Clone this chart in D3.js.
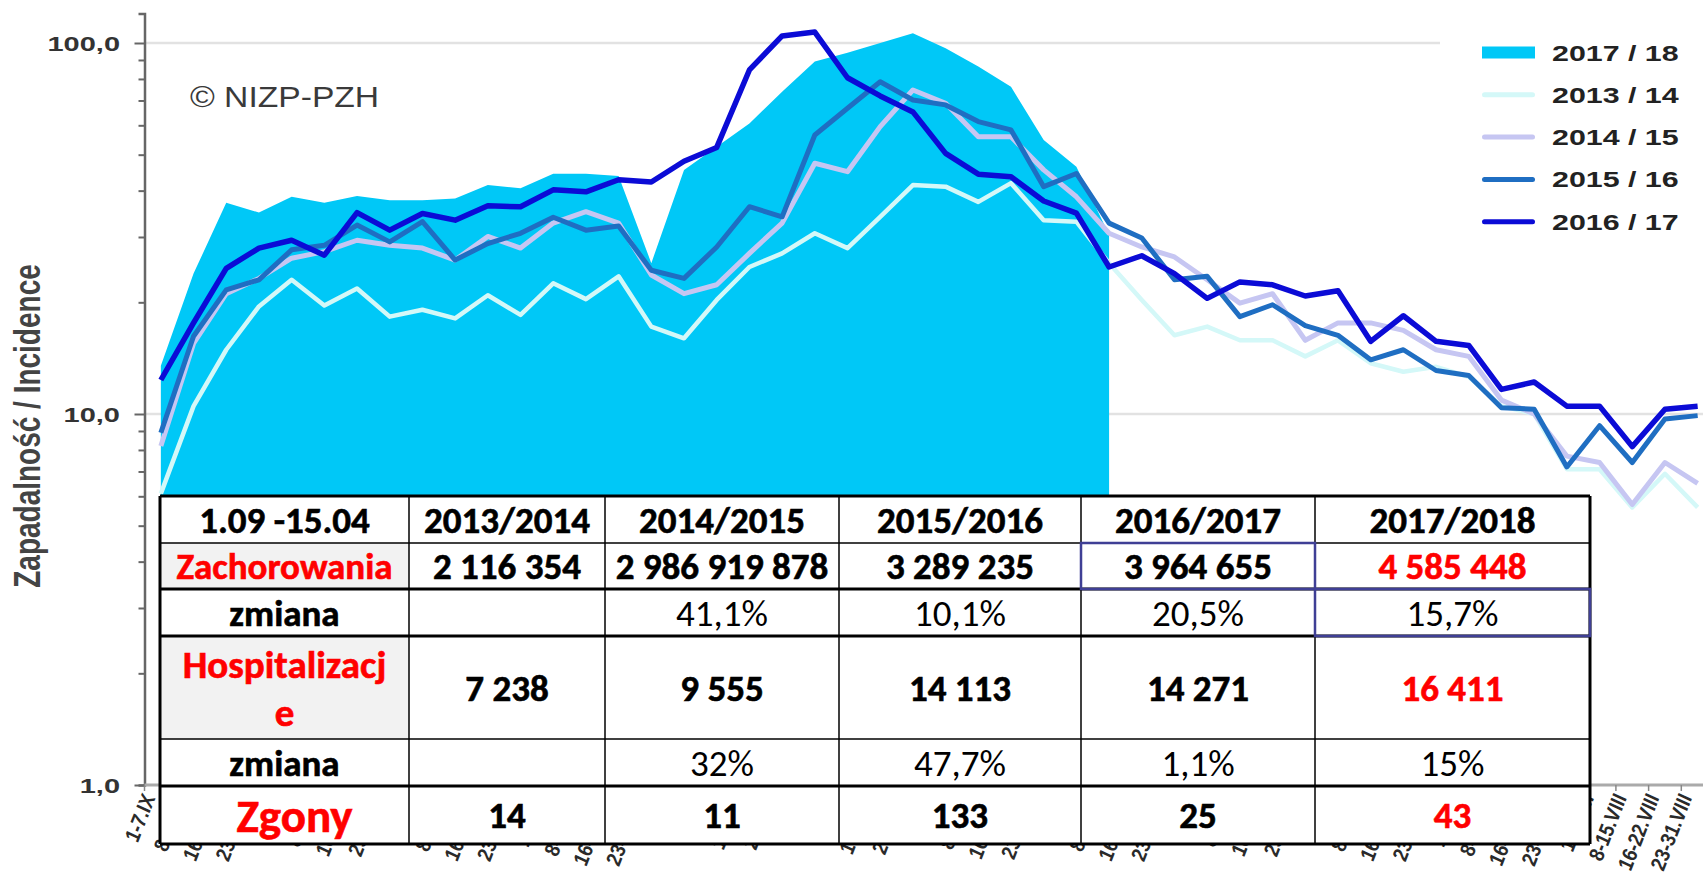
<!DOCTYPE html>
<html>
<head>
<meta charset="utf-8">
<script src="https://cdn.jsdelivr.net/npm/d3@7/dist/d3.min.js"></script>
<style>
	body { margin: 0; background: #fff; }
	svg { display: block; }
</style>
</head>
<body>
<svg id="chart"></svg>
<script>
const WIDTH = 1703;
const HEIGHT = 881;

// weekly periods, Sep -> Aug
const WEEKS = [
	"1-7.IX", "8-15.IX", "16-22.IX", "23-30.IX",
	"1-7.X", "8-15.X", "16-22.X", "23-31.X",
	"1-7.XI", "8-15.XI", "16-22.XI", "23-30.XI",
	"1-7.XII", "8-15.XII", "16-22.XII", "23-31.XII",
	"1-7.I", "8-15.I", "16-22.I", "23-31.I",
	"1-7.II", "8-15.II", "16-22.II", "23-28.II",
	"1-7.III", "8-15.III", "16-22.III", "23-31.III",
	"1-7.IV", "8-15.IV", "16-22.IV", "23-30.IV",
	"1-7.V", "8-15.V", "16-22.V", "23-31.V",
	"1-7.VI", "8-15.VI", "16-22.VI", "23-30.VI",
	"1-7.VII", "8-15.VII", "16-22.VII", "23-31.VII",
	"1-7.VIII", "8-15.VIII", "16-22.VIII", "23-31.VIII",
];

// incidence per 100 000
const S_2017_18 = [13.5, 23.9, 37.1, 34.9, 38.5, 37.1, 38.7, 37.7, 37.7, 38.1, 41.4, 40.6, 44.4, 44.4, 43.8, 25.5,
	45.5, 52.5, 60.7, 73.9, 89.1, 94.2, 100.0, 106.2, 96.8, 86.4, 76.2, 54.8, 46.4, 30.4];
const S_2013_14 = [6.1, 10.5, 14.9, 19.5, 23.0, 19.6, 21.8, 18.3, 19.1, 18.1, 20.9, 18.5, 22.5, 20.4, 23.5, 17.2,
	16.0, 20.3, 24.9, 27.1, 30.7, 28.0, 34.0, 41.4, 41.0, 37.3, 41.9, 33.3, 33.0, 25.5, 20.3, 16.3,
	17.2, 15.8, 15.8, 14.3, 15.8, 13.7, 13.0, 13.4, 12.6, 10.5, 10.0, 7.1, 7.1, 5.6, 6.9, 5.6];
const S_2014_15 = [8.2, 15.5, 21.1, 23.2, 26.3, 27.4, 29.4, 28.5, 28.0, 26.0, 30.1, 28.0, 32.7, 35.1, 32.7, 23.7,
	21.1, 22.3, 27.1, 32.7, 47.4, 45.0, 59.5, 74.7, 68.8, 55.9, 55.9, 45.5, 38.5, 30.7, 28.2, 26.5,
	23.0, 19.9, 21.1, 15.8, 17.6, 17.6, 16.8, 14.9, 14.3, 10.9, 10.0, 7.7, 7.4, 5.7, 7.4, 6.5];
const S_2015_16 = [8.9, 16.2, 21.6, 23.0, 27.7, 28.5, 32.3, 29.1, 33.0, 26.0, 28.8, 30.7, 33.9, 31.3, 32.1, 24.4,
	23.2, 28.2, 36.2, 34.0, 56.5, 66.7, 78.6, 70.2, 68.1, 61.4, 58.3, 41.0, 44.5, 32.7, 29.8, 23.0,
	23.5, 18.3, 19.7, 17.3, 16.3, 14.0, 14.9, 13.1, 12.7, 10.4, 10.3, 7.2, 9.3, 7.4, 9.7, 9.9];
const S_2016_17 = [12.35, 17.6, 24.7, 28.0, 29.4, 26.8, 34.9, 31.3, 34.7, 33.3, 36.4, 36.2, 40.2, 39.7, 42.8, 42.2,
	48.0, 52.3, 84.6, 104.5, 107.0, 80.6, 72.0, 65.2, 50.4, 44.3, 43.6, 37.5, 34.8, 24.9, 26.7, 23.9,
	20.5, 22.7, 22.3, 20.8, 21.5, 15.7, 18.4, 15.7, 15.3, 11.65, 12.2, 10.5, 10.5, 8.17, 10.3, 10.5];

const LEGEND_LABELS = ["2017 / 18", "2013 / 14", "2014 / 15", "2015 / 16", "2016 / 17"];
const Y_TICK_LABELS = [[100, "100,0"], [10, "10,0"], [1, "1,0"]];

// table
const TABLE_HEADER = ["1.09 -15.04", "2013/2014", "2014/2015", "2015/2016", "2016/2017", "2017/2018"];
const ROW_LABELS = ["Zachorowania", "zmiana", "Hospitalizacje", "zmiana", "Zgony"];
const CASES = ["2 116 354", "2 986 919 878", "3 289 235", "3 964 655", "4 585 448"];
const CASES_CHANGE = ["", "41,1%", "10,1%", "20,5%", "15,7%"];
const HOSPITAL = ["7 238", "9 555", "14 113", "14 271", "16 411"];
const HOSPITAL_CHANGE = ["", "32%", "47,7%", "1,1%", "15%"];
const DEATHS = ["14", "11", "133", "25", "43"];

const COLORS = {
	area: "#00c8f7",
	s1314: "#d4f8f8",
	s1415: "#c6c6f2",
	s1516: "#1f6ec2",
	s1617: "#0b0bd6",
	red: "#ff0000",
	frame: "#3f3f95",
};

// the original picture is stretched horizontally
const SX = 1.38;
const CHART_FONT = "'Liberation Sans', Arial, sans-serif";
const TABLE_FONT = "Carlito, Lato, sans-serif";

const svg = d3.select("#chart").attr("width", WIDTH).attr("height", HEIGHT);

const X_LEFT = 144.5;
const X_RIGHT = 1714;
const xBand = d3.scaleBand(WEEKS, [X_LEFT, X_RIGHT]);
const xMid = w => xBand(w) + xBand.bandwidth() / 2;
const Y_BOTTOM = 785;
const yScale = d3.scaleLog([1, 120], [Y_BOTTOM, Y_BOTTOM - 371 * Math.log10(120)]);

// gridlines
svg.append("g")
	.selectAll("line")
	.data([10, 100])
	.join("line")
	.attr("x1", X_LEFT)
	.attr("x2", WIDTH)
	.attr("y1", d => yScale(d))
	.attr("y2", d => yScale(d))
	.attr("stroke", "#e2e2e2")
	.attr("stroke-width", 2.5);

// area 2017/18
const area = d3.area()
	.x((d, i) => xMid(WEEKS[i]))
	.y0(yScale(1))
	.y1(d => yScale(d));
svg.append("path")
	.attr("d", area(S_2017_18))
	.attr("fill", COLORS.area);

const line = d3.line()
	.x((d, i) => xMid(WEEKS[i]))
	.y(d => yScale(d));

const lineSeries = [
	{ data: S_2013_14, stroke: COLORS.s1314, width: 4.5 },
	{ data: S_2014_15, stroke: COLORS.s1415, width: 5 },
	{ data: S_2015_16, stroke: COLORS.s1516, width: 5 },
	{ data: S_2016_17, stroke: COLORS.s1617, width: 5.5 },
];
svg.append("g")
	.selectAll("path")
	.data(lineSeries)
	.join("path")
	.attr("d", d => line(d.data))
	.attr("fill", "none")
	.attr("stroke", d => d.stroke)
	.attr("stroke-width", d => d.width)
	.attr("stroke-linejoin", "round");

// y axis
const minorTicks = [2, 3, 4, 5, 6, 7, 8, 9, 20, 30, 40, 50, 60, 70, 80, 90];
const yAxis = svg.append("g")
	.attr("transform", `translate(${X_LEFT},0)`)
	.call(d3.axisLeft(yScale)
		.tickValues([1, 10, 100, ...minorTicks])
		.tickFormat("")
		.tickSize(6)
		.tickSizeOuter(6));
yAxis.select(".domain").attr("stroke", "#666").attr("stroke-width", 2.5);
yAxis.selectAll(".tick line")
	.attr("stroke", "#666")
	.attr("stroke-width", 2)
	.attr("x2", d => ([1, 10, 100].includes(d) ? -10 : -6));

svg.append("g")
	.selectAll("text")
	.data(Y_TICK_LABELS)
	.join("text")
	.attr("transform", d => `translate(120,${yScale(d[0]) + 7.5}) scale(${SX},1)`)
	.attr("text-anchor", "end")
	.attr("font-family", CHART_FONT)
	.attr("font-weight", "bold")
	.attr("font-size", 21)
	.attr("fill", "#333")
	.text(d => d[1]);

svg.append("text")
	.attr("transform", `translate(27,426) scale(1.35,1) rotate(-90)`)
	.attr("text-anchor", "middle")
	.attr("dominant-baseline", "central")
	.attr("font-family", CHART_FONT)
	.attr("font-weight", "bold")
	.attr("font-size", 28)
	.attr("fill", "#444")
	.text("Zapadalność  /  Incidence");

// x axis
svg.append("line")
	.attr("x1", X_LEFT)
	.attr("x2", WIDTH)
	.attr("y1", Y_BOTTOM)
	.attr("y2", Y_BOTTOM)
	.attr("stroke", "#aaa")
	.attr("stroke-width", 3);
svg.append("g")
	.selectAll("line")
	.data(WEEKS)
	.join("line")
	.attr("x1", d => xBand(d))
	.attr("x2", d => xBand(d))
	.attr("y1", Y_BOTTOM)
	.attr("y2", Y_BOTTOM + 6)
	.attr("stroke", "#888")
	.attr("stroke-width", 1.5);
svg.append("g")
	.selectAll("text")
	.data(WEEKS)
	.join("text")
	.attr("transform", d => `translate(${xMid(d) - 5},797) scale(1.2,1) rotate(-72)`)
	.attr("text-anchor", "end")
	.attr("font-family", CHART_FONT)
	.attr("font-weight", "bold")
	.attr("font-style", "italic")
	.attr("font-size", 18)
	.attr("fill", "#2a2a2a")
	.text(d => d);

svg.append("text")
	.attr("transform", "translate(190,107) scale(1.16,1)")
	.attr("font-family", CHART_FONT)
	.attr("font-size", 29)
	.attr("fill", "#3a3a3a")
	.text("© NIZP-PZH");

// legend
const legend = svg.append("g");
legend.append("rect")
	.attr("x", 1440)
	.attr("y", 22)
	.attr("width", WIDTH - 1440)
	.attr("height", 226)
	.attr("fill", "#fff");
const legendItems = [
	{ label: LEGEND_LABELS[0], color: COLORS.area, h: 12 },
	{ label: LEGEND_LABELS[1], color: COLORS.s1314, h: 5 },
	{ label: LEGEND_LABELS[2], color: COLORS.s1415, h: 5 },
	{ label: LEGEND_LABELS[3], color: COLORS.s1516, h: 5 },
	{ label: LEGEND_LABELS[4], color: COLORS.s1617, h: 5 },
];
const legendRow = legend.selectAll("g")
	.data(legendItems)
	.join("g")
	.attr("transform", (d, i) => `translate(0,${52.5 + i * 42.3})`);
legendRow.append("rect")
	.attr("x", 1482)
	.attr("y", d => -d.h / 2)
	.attr("width", 53)
	.attr("height", d => d.h)
	.attr("rx", d => (d.h < 8 ? 2.5 : 0))
	.attr("fill", d => d.color);
legendRow.append("text")
	.attr("transform", `translate(1552,8) scale(${SX},1)`)
	.attr("font-family", CHART_FONT)
	.attr("font-weight", "bold")
	.attr("font-size", 22)
	.attr("fill", "#222")
	.text(d => d.label);

// table
const COL_X = [160, 409, 605, 839, 1081, 1315, 1590];
const ROW_Y = [496, 543, 589, 636, 739, 786, 844];

const cell = (text, opts = {}) => ({ text, ...opts });
const lastRed = (v, i, arr) => cell(v, { bold: true, color: i === arr.length - 1 ? COLORS.red : "#000" });
const tableRows = [
	TABLE_HEADER.map(t => cell(t, { bold: true })),
	[cell(ROW_LABELS[0], { bold: true, color: COLORS.red, fill: "#f2f2f2" }), ...CASES.map(lastRed)],
	[cell(ROW_LABELS[1], { bold: true }), ...CASES_CHANGE.map(t => cell(t))],
	[cell(ROW_LABELS[2], { bold: true, color: COLORS.red, fill: "#f2f2f2", size: 39, lines: ["Hospitalizacj", "e"] }),
		...HOSPITAL.map(lastRed)],
	[cell(ROW_LABELS[3], { bold: true }), ...HOSPITAL_CHANGE.map(t => cell(t))],
	[cell(ROW_LABELS[4], { bold: true, color: COLORS.red, size: 47, dx: 10 }), ...DEATHS.map(lastRed)],
];

const table = svg.append("g");
table.append("rect")
	.attr("x", COL_X[0])
	.attr("y", ROW_Y[0])
	.attr("width", COL_X[6] - COL_X[0])
	.attr("height", ROW_Y[6] - ROW_Y[0])
	.attr("fill", "#fff");

tableRows.forEach((row, r) => {
	const y0 = ROW_Y[r];
	const y1 = ROW_Y[r + 1];
	row.forEach((c, k) => {
		const x0 = COL_X[k];
		const x1 = COL_X[k + 1];
		if (c.fill) {
			table.append("rect")
				.attr("x", x0).attr("y", y0)
				.attr("width", x1 - x0).attr("height", y1 - y0)
				.attr("fill", c.fill);
		}
		const size = c.size || 37;
		const lines = c.lines || [c.text];
		const gap = 48;
		const cy = (y0 + y1) / 2;
		lines.forEach((t, j) => {
			const baseline = cy + size * 0.36 + (j - (lines.length - 1) / 2) * gap;
			table.append("text")
				.attr("x", (x0 + x1) / 2 + (c.dx || 0))
				.attr("y", baseline)
				.attr("text-anchor", "middle")
				.attr("font-family", TABLE_FONT)
				.attr("font-weight", c.bold ? "bold" : "normal")
				.attr("font-size", size)
				.attr("fill", c.color || "#000")
				.attr("stroke", c.bold ? (c.color || "#000") : "none")
				.attr("stroke-width", 0.6)
				.text(t);
		});
	});
});

// table rules
const hWidths = [3, 1.5, 3, 3, 1.5, 3, 3];
table.append("g")
	.selectAll("line")
	.data(ROW_Y)
	.join("line")
	.attr("x1", COL_X[0])
	.attr("x2", COL_X[6])
	.attr("y1", d => d)
	.attr("y2", d => d)
	.attr("stroke", "#000")
	.attr("stroke-width", (d, i) => hWidths[i]);
table.append("g")
	.selectAll("line")
	.data(COL_X)
	.join("line")
	.attr("x1", d => d)
	.attr("x2", d => d)
	.attr("y1", ROW_Y[0])
	.attr("y2", ROW_Y[6])
	.attr("stroke", "#000")
	.attr("stroke-width", (d, i) => (i === 0 || i === COL_X.length - 1 ? 3 : 1.5));

// highlighted cells
table.append("g")
	.selectAll("rect")
	.data([[4, 1], [5, 2]])
	.join("rect")
	.attr("x", d => COL_X[d[0]])
	.attr("y", d => ROW_Y[d[1]])
	.attr("width", d => COL_X[d[0] + 1] - COL_X[d[0]])
	.attr("height", d => ROW_Y[d[1] + 1] - ROW_Y[d[1]])
	.attr("fill", "none")
	.attr("stroke", COLORS.frame)
	.attr("stroke-width", 2.5);
</script>
</body>
</html>
